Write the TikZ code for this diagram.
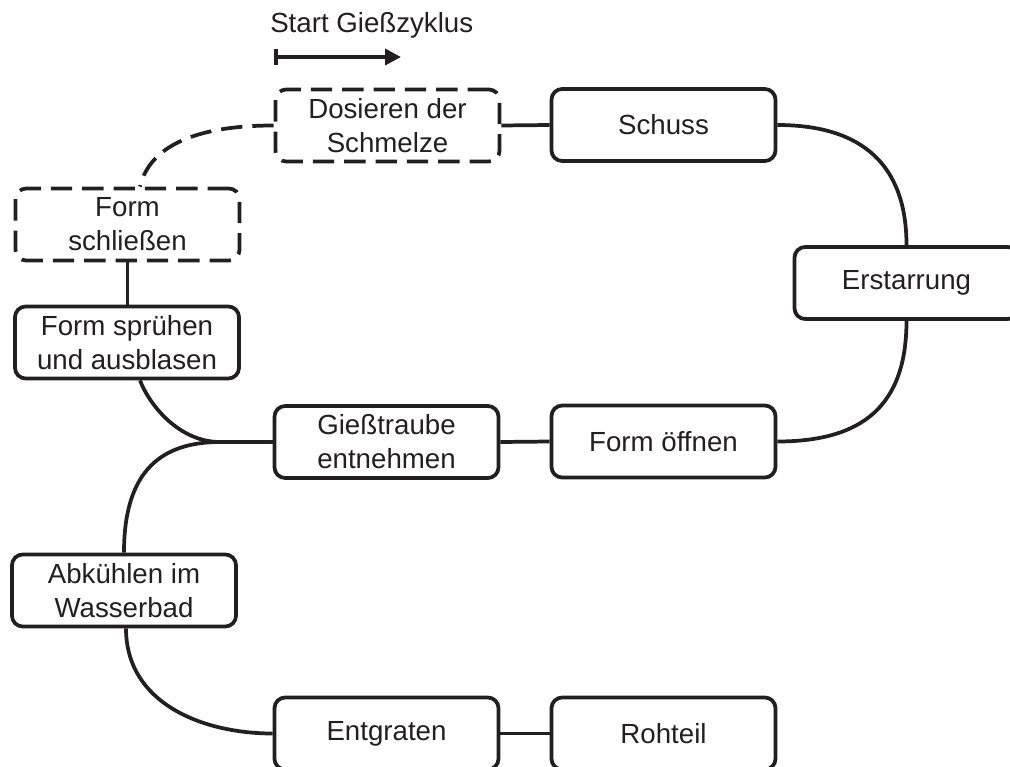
\documentclass[tikz,border=0pt]{standalone}
\usepackage{fontspec}
\setmainfont{Liberation Sans}
\usetikzlibrary{arrows.meta,calc}
\definecolor{ink}{RGB}{35,31,32}
\begin{document}
\begin{tikzpicture}[x=0.75pt,y=-0.75pt,
  proc/.style={draw=ink, line width=2.8pt, rounded corners=8pt, minimum width=168pt, minimum height=54pt, inner sep=0pt, align=center, text=ink, font=\fontsize{20.75pt}{25.5pt}\selectfont},
  dproc/.style={proc, dash pattern=on 16pt off 7.5pt},
  link/.style={draw=ink, line width=2.8pt},
  dlink/.style={link, dash pattern=on 16pt off 7.5pt},
  lbl/.style={inner sep=0pt, text=ink, font=\fontsize{20.75pt}{25.5pt}\selectfont}]
\useasboundingbox (0,0) rectangle (1010,767);
\clip (0,0) rectangle (1010,767);

% nodes
\node[dproc] (dos) at (387.5,125.5) {Dosieren der\\Schmelze};
\node[proc] (schuss) at (663.5,125) {Schuss};
\node[proc] (erst) at (906.5,283) {Erstarrung};
\node[dproc] (fs) at (127.5,224.5) {Form\\schließen};
\node[proc] (spr) at (127,342.5) {Form sprühen\\und ausblasen};
\node[proc] (gt) at (386.5,442) {Gießtraube\\entnehmen};
\node[proc] (fo) at (663.5,441.5) {Form öffnen};
\node[proc] (abk) at (124,590.5) {Abkühlen im\\Wasserbad};
\node[proc] (ent) at (386.5,733.5) {Entgraten};
\node[proc] (roh) at (663.5,733.5) {Rohteil};

% start label and arrow
\node[lbl, anchor=base west] (start) at (270,33) {Start Gießzyklus};
\coordinate (s1) at (274,57);
\coordinate (s2) at (401,57);
\draw[link, {Bar[width=12pt]}-{Triangle[length=12pt,width=12pt]}] (s1) -- (s2);

% connectors
\coordinate (fstop) at ($(fs.north)+(12.5,0)$);
\draw[dlink] (dos.west) .. controls ($(dos.west)+(-75,0)$) and ($(fstop)+(10,-42)$) .. (fstop);
\draw[link] (dos.east) -- (schuss.west);
\draw[link] (schuss.east) .. controls ($(schuss.east)+(85,0)$) and ($(erst.north)+(0,-80)$) .. (erst.north);
\draw[link] (erst.south) .. controls ($(erst.south)+(0,85)$) and ($(fo.east)+(85,0)$) .. (fo.east);
\draw[link] (fo.west) -- (gt.east);
\draw[link] (fs.south) -- (fs.south |- spr.north);
\coordinate (j) at (220,442);
\coordinate (sprb) at ($(spr.south)+(13,0)$);
\draw[link] (gt.west) -- (j);
\draw[link] (sprb) .. controls ($(sprb)+(10,26)$) and ($(j)+(-40,0)$) .. (j);
\draw[link] (j) .. controls ($(j)+(-65,0)$) and ($(abk.north)+(0,-75)$) .. (abk.north);
\coordinate (abkb) at ($(abk.south)+(2,0)$);
\draw[link] (abkb) .. controls ($(abkb)+(0,75)$) and ($(ent.west)+(-70,0)$) .. (ent.west);
\draw[link] (ent.east) -- (roh.west);
\end{tikzpicture}
\end{document}
